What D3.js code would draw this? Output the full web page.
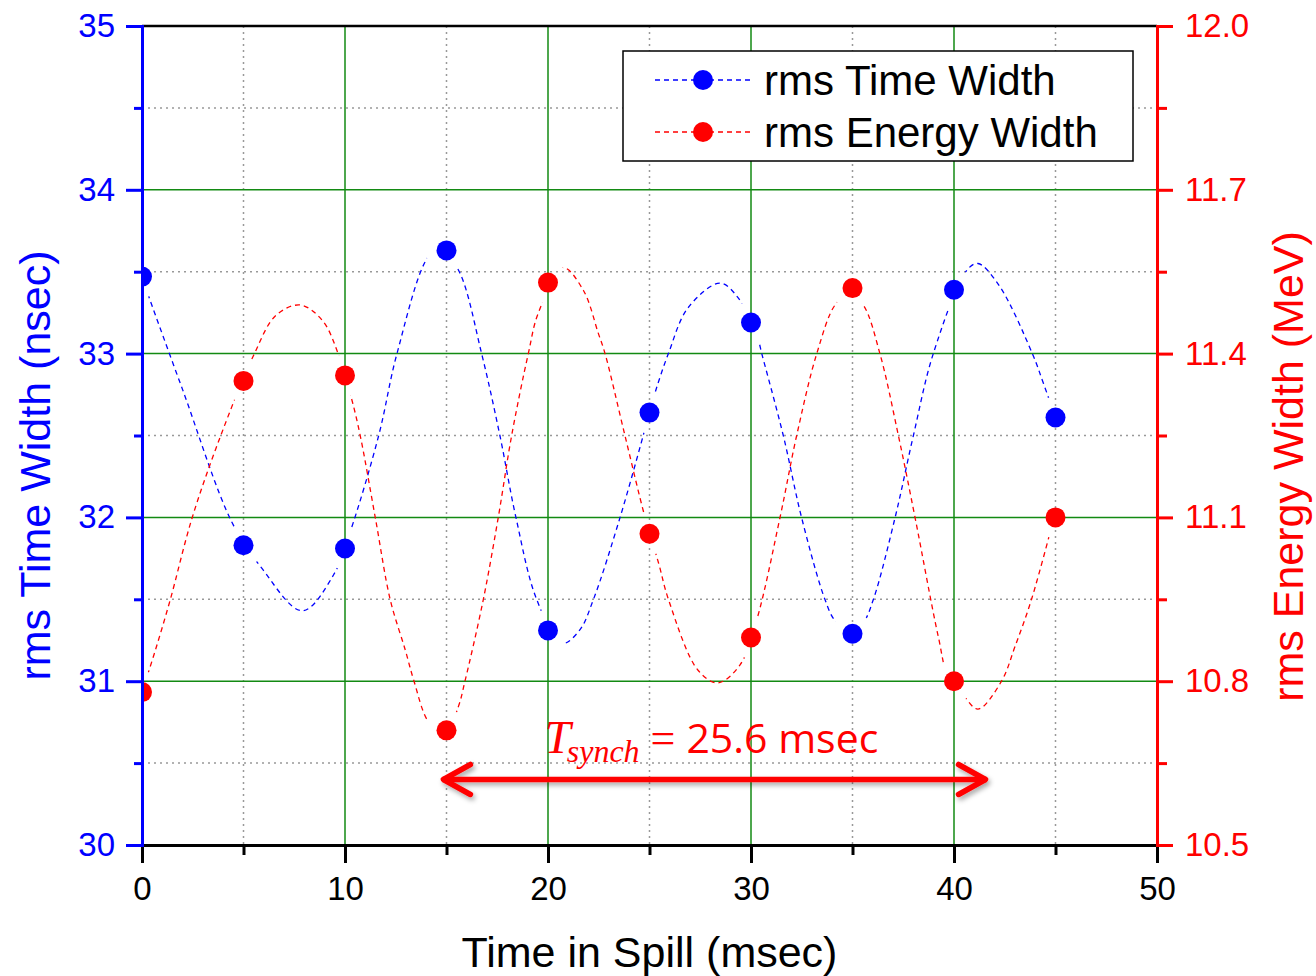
<!DOCTYPE html>
<html><head><meta charset="utf-8">
<script src="https://cdn.jsdelivr.net/npm/d3@7"></script>
<style>body{margin:0;background:#fff}svg{display:block}</style>
</head><body>
<script>
// ---------- data ----------
const timeMs = [0,5,10,15,20,25,30,35,40,45];
const timeWidth = [33.47,31.83,31.81,33.63,31.31,32.64,33.19,31.29,33.39,32.61];
const energyWidth = [10.78,11.35,11.36,10.71,11.53,11.07,10.88,11.52,10.80,11.10];
// fitted curves (x in msec, y in axis units)
const fitTimeX = [0,0.33,2,4.43,5.9,7.9,9.44,10.25,11.66,12.56,14.1,14.75,15.63,16.73,17.63,18.42,19.44,20.67,21.55,22.24,23.55,24.69,24.86,25.27,25.93,26.9,28.47,29.37,30.36,30.53,31.59,32.49,33.64,34.14,34.85,35.53,36.03,37.1,38.0,38.98,40.64,41.18,42.2,43.86,44.4,45];
const fitTimeY = [33.47,33.35,32.78,31.97,31.69,31.43,31.65,31.91,32.5,33.0,33.59,33.64,33.5,33.0,32.5,32.0,31.5,31.23,31.31,31.5,32.0,32.5,32.58,32.76,33.0,33.28,33.43,33.34,33.08,33.0,32.5,32.0,31.5,31.37,31.31,31.36,31.5,32.0,32.5,33.0,33.51,33.55,33.42,33.0,32.82,32.61];
const fitEnergyX = [0,0.66,1.39,2.46,3.86,5.5,6.6,7.8,8.9,9.69,10.34,10.76,11.5,12.23,12.97,13.4,14.1,14.9,15.58,15.91,16.81,17.55,18.21,19.03,19.52,20.75,21.74,22.48,22.81,23.79,24.78,25.45,25.94,27.39,28.37,29.46,30.28,31.43,32.25,33.24,34.14,34.84,35.53,36.35,37.26,38.08,39.23,39.77,40.44,41.18,42.34,43.0,43.82,45];
const fitEnergyY = [10.78,10.857,10.949,11.098,11.248,11.397,11.47,11.489,11.46,11.397,11.315,11.248,11.098,10.949,10.857,10.8,10.726,10.70,10.753,10.8,10.949,11.1,11.25,11.4,11.474,11.557,11.516,11.437,11.4,11.25,11.1,11.016,10.949,10.82,10.797,10.83,10.912,11.1,11.25,11.4,11.489,11.51,11.489,11.4,11.25,11.1,10.881,10.8,10.775,10.749,10.8,10.863,10.95,11.11];
const xTicks = [0,10,20,30,40,50];
const xMinor = [5,15,25,35,45];
const leftTicks = [30,31,32,33,34,35];
const leftMinor = [30.5,31.5,32.5,33.5,34.5];
const rightTicks = [10.5,10.8,11.1,11.4,11.7,12.0];
const rightMinor = [10.65,10.95,11.25,11.55,11.85];
const seriesNames = ["rms Time Width","rms Energy Width"];
const arrowX = [14.7, 41.7];     // msec
const arrowY = [30.40];          // left-axis units
const barY = [30.15, 30.64];     // left-axis units

// ---------- layout ----------
const W = 1316, H = 976;
const L = 142, T = 26, R = 1157, B = 845;
const BLUE = "#0000ff", RED = "#ff0000", GREEN = "#138a13";

const svg = d3.select("body").append("svg").attr("width", W).attr("height", H)
  .style("font-family", "'Liberation Sans', Arial, sans-serif");

const x = d3.scaleLinear().domain([0,50]).range([L,R]);
const yL = d3.scaleLinear().domain([30,35]).range([B,T]);
const yR = d3.scaleLinear().domain([10.5,12.0]).range([B,T]);

const defs = svg.append("defs");
defs.append("clipPath").attr("id","plotclip").append("rect")
  .attr("x",L).attr("y",T).attr("width",R-L).attr("height",B-T);
const sh = defs.append("filter").attr("id","shadow").attr("x","-20%").attr("y","-50%").attr("width","140%").attr("height","200%");
sh.append("feDropShadow").attr("dx",2).attr("dy",3).attr("stdDeviation",2.5).attr("flood-color","#000").attr("flood-opacity",0.35);

// masks to create gaps in fitted curves around markers
function makeMask(id, ys, yscale){
  const m = defs.append("mask").attr("id", id).attr("maskUnits","userSpaceOnUse")
    .attr("x",0).attr("y",0).attr("width",W).attr("height",H);
  m.append("rect").attr("x",0).attr("y",0).attr("width",W).attr("height",H).attr("fill","#fff");
  m.selectAll("circle").data(timeMs).join("circle")
    .attr("cx", d=>x(d)).attr("cy",(d,i)=>yscale(ys[i])).attr("r",21).attr("fill","#000");
}
makeMask("maskT", timeWidth, yL);
makeMask("maskE", energyWidth, yR);

// ---------- grid ----------
const grid = svg.append("g");
grid.selectAll(".vminor").data(xMinor).join("line")
  .attr("x1",d=>x(d)).attr("x2",d=>x(d)).attr("y1",T).attr("y2",B)
  .attr("stroke","#999").attr("stroke-width",1.5).attr("stroke-dasharray","2,4");
grid.selectAll(".hminor").data(leftMinor).join("line")
  .attr("x1",L).attr("x2",R).attr("y1",d=>yL(d)).attr("y2",d=>yL(d))
  .attr("stroke","#999").attr("stroke-width",1.5).attr("stroke-dasharray","2,4");
grid.selectAll(".vmajor").data(xTicks.filter(d=>d>0&&d<50)).join("line")
  .attr("x1",d=>x(d)).attr("x2",d=>x(d)).attr("y1",T).attr("y2",B)
  .attr("stroke",GREEN).attr("stroke-width",1.5);
grid.selectAll(".hmajor").data(leftTicks.filter(d=>d>30&&d<35)).join("line")
  .attr("x1",L).attr("x2",R).attr("y1",d=>yL(d)).attr("y2",d=>yL(d))
  .attr("stroke",GREEN).attr("stroke-width",1.5);

// ---------- fitted curves ----------
const lineT = d3.line().x(d=>x(d[0])).y(d=>yL(d[1])).curve(d3.curveCatmullRom.alpha(0.5));
const lineE = d3.line().x(d=>x(d[0])).y(d=>yR(d[1])).curve(d3.curveCatmullRom.alpha(0.5));
const plot = svg.append("g").attr("clip-path","url(#plotclip)");
plot.append("path").datum(fitTimeX.map((v,i)=>[v,fitTimeY[i]]))
  .attr("d",lineT).attr("fill","none").attr("stroke",BLUE).attr("stroke-width",1.3)
  .attr("stroke-dasharray","5,4").attr("mask","url(#maskT)");
plot.append("path").datum(fitEnergyX.map((v,i)=>[v,fitEnergyY[i]]))
  .attr("d",lineE).attr("fill","none").attr("stroke",RED).attr("stroke-width",1.3)
  .attr("stroke-dasharray","5,4").attr("mask","url(#maskE)");

// ---------- markers ----------
plot.selectAll(".pt").data(timeMs).join("circle")
  .attr("cx",d=>x(d)).attr("cy",(d,i)=>yL(timeWidth[i])).attr("r",10).attr("fill",BLUE);
plot.selectAll(".pe").data(timeMs).join("circle")
  .attr("cx",d=>x(d)).attr("cy",(d,i)=>yR(energyWidth[i])).attr("r",10).attr("fill",RED);

// ---------- annotation ----------
const ann = svg.append("g");
const ay = yL(arrowY[0]);
const ax0 = x(arrowX[0]), ax1 = x(arrowX[1]);
ann.selectAll(".bar").data(arrowX).join("line")
  .attr("x1",d=>x(d)-1).attr("x2",d=>x(d)-1).attr("y1",yL(barY[1])).attr("y2",yL(barY[0]))
  .attr("stroke","#444").attr("stroke-width",4).attr("filter","url(#shadow)");
const arr = ann.append("g").attr("filter","url(#shadow)");
arr.append("line").attr("x1",ax0+2).attr("x2",ax1-2).attr("y1",ay).attr("y2",ay)
  .attr("stroke",RED).attr("stroke-width",5.5);
arr.append("path").attr("d",`M${ax0+30},${ay-15} L${ax0+3},${ay} L${ax0+30},${ay+15}`)
  .attr("fill","none").attr("stroke",RED).attr("stroke-width",5.5).attr("stroke-linecap","round").attr("stroke-linejoin","round");
arr.append("path").attr("d",`M${ax1-30},${ay-15} L${ax1-3},${ay} L${ax1-30},${ay+15}`)
  .attr("fill","none").attr("stroke",RED).attr("stroke-width",5.5).attr("stroke-linecap","round").attr("stroke-linejoin","round");

const tx = (ax0+ax1)/2 - 3;
const lab = ann.append("text").attr("x", tx).attr("y", ay-26).attr("text-anchor","middle").attr("fill",RED);
lab.append("tspan").text("T").style("font-family","'Liberation Serif', 'Times New Roman', serif")
  .style("font-style","italic").style("font-size","47px");
lab.append("tspan").text("synch").attr("dy",9).style("font-family","'Liberation Serif', 'Times New Roman', serif")
  .style("font-style","italic").style("font-size","32px").attr("dx",-4);
lab.append("tspan").text(" = ").attr("dy",-9).style("font-family","'Liberation Serif', 'Times New Roman', serif")
  .style("font-size","44px");
lab.append("tspan").text("25.6 msec").style("font-family","'Open Sans', sans-serif").style("font-size","41px");

// ---------- axes ----------
function styleAxis(g, color, w){
  g.select(".domain").attr("stroke",color).attr("stroke-width",w);
  g.selectAll(".tick line").attr("stroke",color).attr("stroke-width",w);
  g.selectAll("text").attr("fill",color);
}
// top frame
svg.append("line").attr("x1",L).attr("x2",R).attr("y1",T).attr("y2",T).attr("stroke","#000").attr("stroke-width",2.5);

const gxMinor = svg.append("g").attr("transform",`translate(0,${B})`)
  .call(d3.axisBottom(x).tickValues(xMinor).tickSize(10).tickFormat(""));
styleAxis(gxMinor,"#000",3);
const gx = svg.append("g").attr("transform",`translate(0,${B})`)
  .call(d3.axisBottom(x).tickValues(xTicks).tickSize(18).tickPadding(14).tickSizeOuter(0).tickFormat(d3.format("d")));
styleAxis(gx,"#000",3);
gx.selectAll("text").style("font-size","33px");

const gyMinor = svg.append("g").attr("transform",`translate(${L},0)`)
  .call(d3.axisLeft(yL).tickValues(leftMinor).tickSize(8).tickFormat(""));
styleAxis(gyMinor,BLUE,3);
const gy = svg.append("g").attr("transform",`translate(${L},0)`)
  .call(d3.axisLeft(yL).tickValues(leftTicks).tickSize(16).tickPadding(11).tickSizeOuter(0).tickFormat(d3.format("d")));
styleAxis(gy,BLUE,3);
gy.selectAll("text").style("font-size","33px");

const grMinor = svg.append("g").attr("transform",`translate(${R},0)`)
  .call(d3.axisRight(yR).tickValues(rightMinor).tickSize(10).tickFormat(""));
styleAxis(grMinor,RED,3);
const gr = svg.append("g").attr("transform",`translate(${R},0)`)
  .call(d3.axisRight(yR).tickValues(rightTicks).tickSize(16).tickPadding(12).tickSizeOuter(0).tickFormat(d3.format(".1f")));
styleAxis(gr,RED,3);
gr.selectAll("text").style("font-size","33px");

// axis titles
svg.append("text").attr("x",(L+R)/2).attr("y",967).attr("text-anchor","middle")
  .style("font-size","43px").attr("fill","#000").text("Time in Spill (msec)");
svg.append("text").attr("transform",`translate(50,${(T+B)/2+30}) rotate(-90)`).attr("text-anchor","middle")
  .style("font-size","43px").attr("fill",BLUE).text("rms Time Width (nsec)");
svg.append("text").attr("transform",`translate(1303,${(T+B)/2+31}) rotate(-90)`).attr("text-anchor","middle")
  .style("font-size","43px").attr("fill",RED).text("rms Energy Width (MeV)");

// ---------- legend ----------
const lg = svg.append("g");
lg.append("rect").attr("x",623).attr("y",51).attr("width",510).attr("height",110)
  .attr("fill","#fff").attr("stroke","#000").attr("stroke-width",1.5);
const colors = [BLUE, RED];
const ent = lg.selectAll(".ent").data(seriesNames).join("g")
  .attr("transform",(d,i)=>`translate(0,${80+i*52})`);
ent.append("line").attr("x1",655).attr("x2",752).attr("y1",0).attr("y2",0)
  .attr("stroke",(d,i)=>colors[i]).attr("stroke-width",1.3).attr("stroke-dasharray","5,4");
ent.append("circle").attr("cx",703).attr("cy",0).attr("r",10).attr("fill",(d,i)=>colors[i]);
ent.append("text").attr("x",764).attr("y",0).attr("dy","0.36em").style("font-size","42px")
  .attr("fill","#000").text(d=>d);
</script>
</body></html>
